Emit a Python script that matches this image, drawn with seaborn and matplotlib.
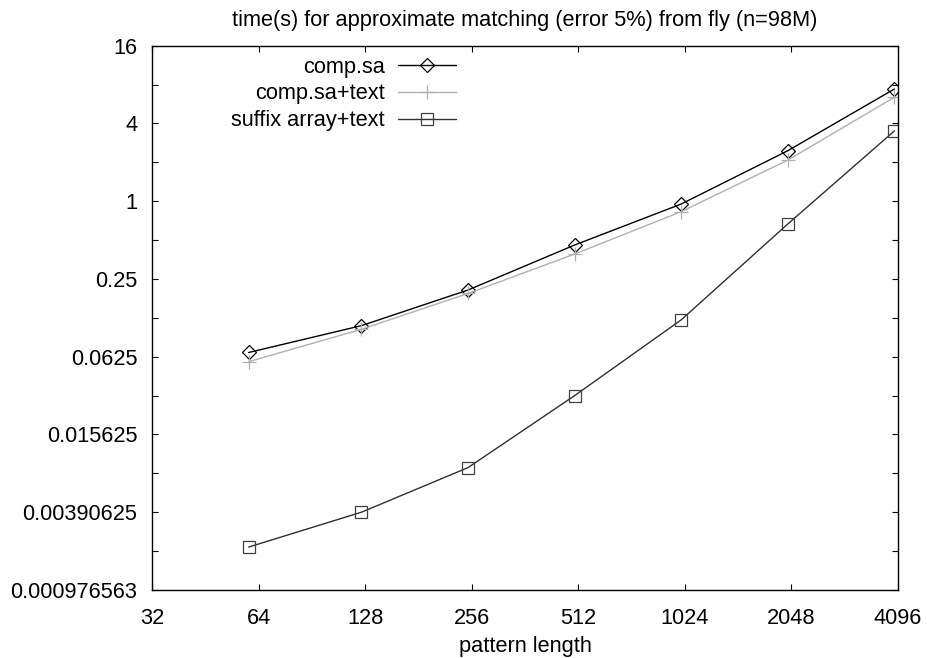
import matplotlib
matplotlib.use("Agg")
import matplotlib.pyplot as plt
import matplotlib.ticker as mticker
import seaborn as sns
import pandas as pd
import numpy as np

# ---- data ----
pattern_length = [60, 125, 250, 500, 1000, 2000, 4000]
comp_sa = [0.0674, 0.1088, 0.2054, 0.458, 0.951, 2.46, 7.39]
comp_sa_text = [0.0572, 0.102, 0.193, 0.39, 0.83, 2.08, 6.38]
suffix_array_text = [0.00210, 0.00391, 0.00866, 0.03125, 0.1206, 0.666, 3.50]

series_names = ["comp.sa", "comp.sa+text", "suffix array+text"]
x_ticks = [32, 64, 128, 256, 512, 1024, 2048, 4096]
x_tick_labels = ["32", "64", "128", "256", "512", "1024", "2048", "4096"]
y_major = [16, 4, 1, 0.25, 0.0625, 0.015625, 0.00390625, 0.000976563]
y_major_labels = ["16", "4", "1", "0.25", "0.0625", "0.015625", "0.00390625", "0.000976563"]
y_minor = [8, 2, 0.5, 0.125, 0.03125, 0.0078125, 0.001953125]

title = "time(s) for approximate matching (error 5%) from fly (n=98M)"
xlabel = "pattern length"

df = pd.DataFrame({
    "x": pattern_length * 3,
    "y": comp_sa + comp_sa_text + suffix_array_text,
    "series": [series_names[0]] * 7 + [series_names[1]] * 7 + [series_names[2]] * 7,
})

sns.set_style("ticks")
plt.rcParams["font.family"] = ["Liberation Sans", "DejaVu Sans"]
plt.rcParams["text.color"] = "black"
plt.rcParams["axes.labelcolor"] = "black"
FS = 15.7

fig = plt.figure(figsize=(9.27, 6.58), dpi=100)
ax = fig.add_axes([152 / 927, 68 / 658, 746 / 927, 544.3 / 658])

styles = {
    "comp.sa": dict(color="#000000", marker="D", markersize=6.8, mec="#000000", mew=0.9),
    "comp.sa+text": dict(color="#b0b0b0", marker="+", markersize=10, mec="#b0b0b0", mew=0.9),
    "suffix array+text": dict(color="#303030", marker="s", markersize=9.2, mec="#404040", mew=0.9),
}
for name in series_names:
    st = styles[name]
    sub = df[df["series"] == name]
    sns.lineplot(data=sub, x="x", y="y", ax=ax, label=name, color=st["color"],
                 marker=st["marker"], markersize=st["markersize"],
                 markerfacecolor="none", markeredgecolor=st["mec"],
                 markeredgewidth=st["mew"], linewidth=1.0)

ax.set_xscale("log", base=2)
ax.set_yscale("log", base=2)
ax.set_xlim(32, 4096)
ax.set_ylim(0.000976563, 16)

ax.xaxis.set_major_locator(mticker.FixedLocator(x_ticks))
ax.xaxis.set_major_formatter(mticker.FixedFormatter(x_tick_labels))
ax.xaxis.set_minor_locator(mticker.NullLocator())
ax.yaxis.set_major_locator(mticker.FixedLocator(y_major))
ax.yaxis.set_major_formatter(mticker.FixedFormatter(y_major_labels))
ax.yaxis.set_minor_locator(mticker.FixedLocator(y_minor))
ax.yaxis.set_minor_formatter(mticker.NullFormatter())

ax.tick_params(which="both", direction="in", top=True, right=True,
               length=4.5, width=0.8, color="#000000", labelsize=FS, labelcolor="#000000")
ax.tick_params(axis="x", pad=13)
ax.tick_params(axis="y", pad=10.5)

for sp in ax.spines.values():
    sp.set_visible(True)
    sp.set_linewidth(1.0)
    sp.set_color("#000000")

ax.set_title(title, fontsize=FS, pad=14, color="black")
ax.set_xlabel(xlabel, fontsize=FS, labelpad=5, color="black")
ax.set_ylabel("")

leg = ax.legend(loc="upper right", bbox_to_anchor=(0.4075, 0.980), frameon=False,
                markerfirst=False, fontsize=FS, borderpad=0, borderaxespad=0,
                handlelength=2.66, handletextpad=0.6, labelspacing=0.27)
for t in leg.get_texts():
    t.set_color("black")

fig.savefig("out.png", dpi=100)
